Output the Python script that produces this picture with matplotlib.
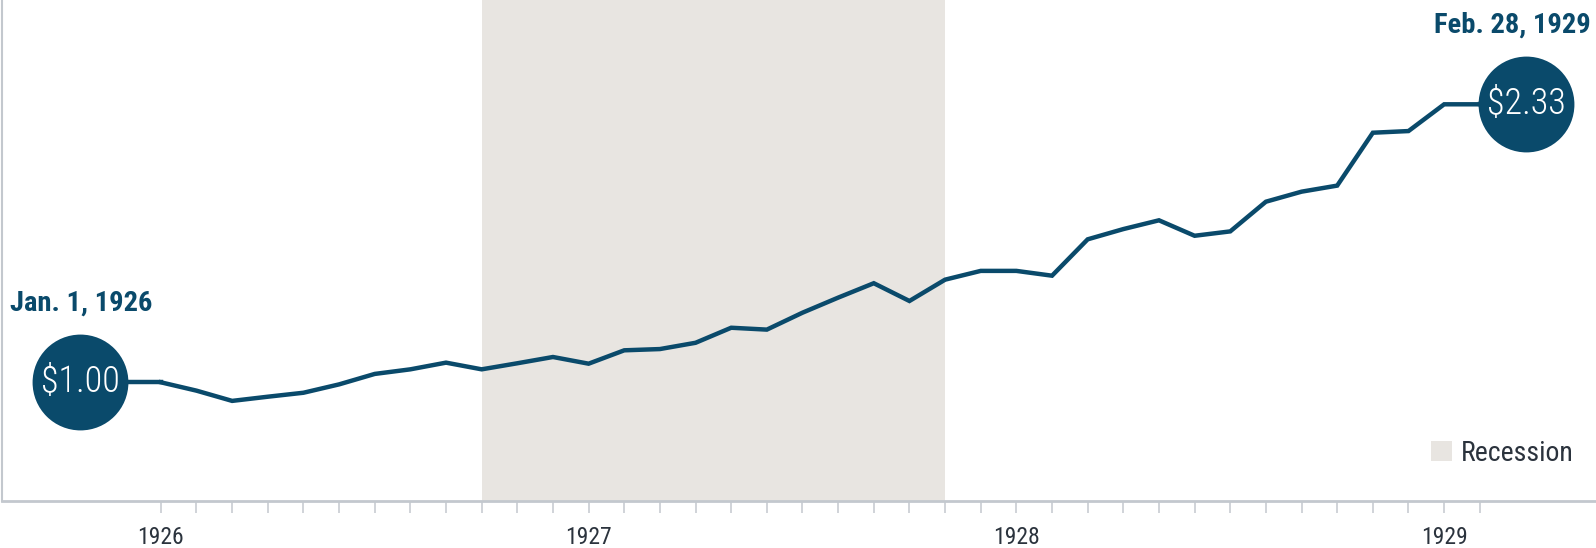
import matplotlib
matplotlib.use("Agg")
import matplotlib.pyplot as plt
from matplotlib.patches import Patch
from matplotlib import font_manager

# growth of $1, monthly, Jan 1926 .. Feb 1929
months = list(range(38))
values = [1.000, 0.960, 0.911, 0.931, 0.950, 0.990, 1.040, 1.062, 1.094, 1.062,
          1.091, 1.121, 1.089, 1.153, 1.159, 1.189, 1.261, 1.252, 1.333, 1.405,
          1.474, 1.389, 1.491, 1.533, 1.533, 1.510, 1.684, 1.733, 1.775, 1.701,
          1.722, 1.864, 1.912, 1.941, 2.194, 2.202, 2.330, 2.330]
year_ticks = [0, 12, 24, 36]
year_labels = ["1926", "1927", "1928", "1929"]
recession = (9, 22)
start_label = "Jan. 1, 1926"
end_label = "Feb. 28, 1929"
start_value = "$1.00"
end_value = "$2.33"

BLUE = "#0a4a6b"
SHADE = "#e8e5e1"
GREY = "#c3c8ce"
TXT = "#2b333d"

# pick a narrow font if one is around
names = {f.name for f in font_manager.fontManager.ttflist}
fam = "DejaVu Sans"
for cand in ["Roboto Condensed", "Open Sans Condensed", "Liberation Sans Narrow"]:
    if cand in names:
        fam = cand
        break
plt.rcParams["font.family"] = [fam, "DejaVu Sans"]
plt.rcParams["font.stretch"] = "condensed"

fig = plt.figure(figsize=(15.96, 5.48), dpi=100)
ax = fig.add_axes([1.5 / 1596, 47.3 / 548, 1 - 1.5 / 1596, 1 - 47.3 / 548])

start_x = -2.26
end_x = 38.3

ax.axvspan(recession[0], recession[1], color=SHADE, lw=0, zorder=0)
ax.plot([start_x, months[0]], [values[0], values[0]], color=BLUE, lw=3.2, zorder=2)
ax.plot(months, values, color=BLUE, lw=3.2, zorder=2, solid_joinstyle="miter")
ax.plot([months[-1], end_x], [values[-1], values[-1]], color=BLUE, lw=3.2, zorder=2)
ax.plot([start_x, end_x], [values[0], values[-1]], "o", ms=69, color=BLUE,
        mec="none", zorder=3)

ax.text(start_x, values[0], start_value, color="white", fontsize=26,
        ha="center", va="center", zorder=4, fontweight="light")
ax.text(end_x, values[-1], end_value, color="white", fontsize=26,
        ha="center", va="center", zorder=4, fontweight="light")
ax.annotate(start_label, (start_x, values[0]), xytext=(-70, 72),
            textcoords="offset pixels", ha="left", va="baseline",
            color=BLUE, fontsize=20.5, fontweight="bold")
ax.annotate(end_label, (end_x, values[-1]), xytext=(65, 72),
            textcoords="offset pixels", ha="right", va="baseline",
            color=BLUE, fontsize=20.5, fontweight="bold")

ax.set_xlim(-4.47, 40.26)
ax.set_ylim(0.4335, 2.829)

ax.set_xticks(months)
ax.set_xticklabels([year_labels[year_ticks.index(m)] if m in year_ticks else ""
                    for m in months])
ax.tick_params(axis="x", length=8.6, width=1.1, color=GREY, labelsize=17,
               labelcolor=TXT, pad=9.5)
ax.set_yticks([])
for s in ["top", "right"]:
    ax.spines[s].set_visible(False)
ax.spines["bottom"].set_color(GREY)
ax.spines["bottom"].set_linewidth(2)
ax.spines["left"].set_color(GREY)
ax.spines["left"].set_linewidth(1.5)

ax.legend(handles=[Patch(color=SHADE, lw=0)], labels=["Recession"],
          loc="lower right", bbox_to_anchor=(0.9945, 0.04), frameon=False,
          fontsize=20, handlelength=0.75, handleheight=0.75, handletextpad=0.3,
          borderpad=0, labelcolor=TXT)

fig.savefig("out.png", dpi=100)
